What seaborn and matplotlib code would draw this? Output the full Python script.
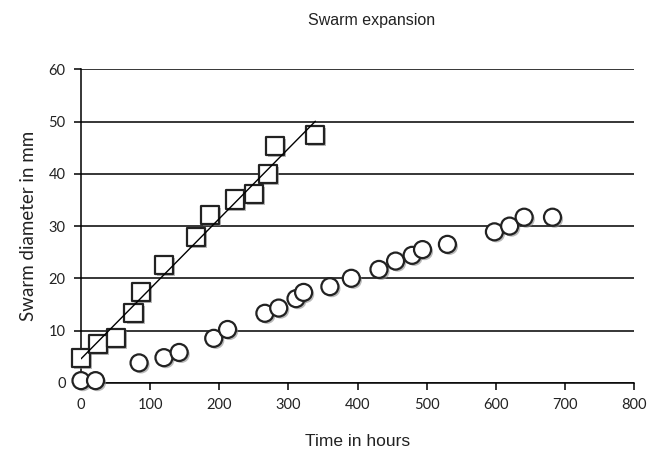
import numpy as np
import pandas as pd
import seaborn as sns
import matplotlib.pyplot as plt
import matplotlib.patheffects as pe

# squares: linear expansion series
sq_hours = [0, 25, 50, 76, 87, 120, 166, 186, 223, 250, 271, 281, 339]
sq_diam = [4.8, 7.5, 8.5, 13.3, 17.4, 22.5, 27.9, 32.1, 35.1, 36.1, 40.0, 45.3, 47.4]

# circles: slower expansion series
ci_hours = [0, 21, 84, 120, 142, 192, 212, 266, 286, 311, 322, 360, 391,
            431, 455, 479, 494, 530, 598, 620, 641, 682]
ci_diam = [0.4, 0.4, 3.8, 4.8, 5.8, 8.5, 10.2, 13.3, 14.3, 16.1, 17.3, 18.4, 20.0,
           21.7, 23.3, 24.4, 25.5, 26.5, 28.9, 30.0, 31.7, 31.7]

df_sq = pd.DataFrame({'hours': sq_hours, 'diam': sq_diam})
df_ci = pd.DataFrame({'hours': ci_hours, 'diam': ci_diam})

sns.set_style('white')
plt.rcParams['font.family'] = ['Liberation Sans', 'DejaVu Sans']

f = plt.figure(figsize=(6.49, 4.54), dpi=100)
ax = f.add_axes([0.1248, 0.157, 0.977 - 0.1248, 0.847 - 0.157])

shadow = [pe.SimplePatchShadow(offset=(1.5, -1.5), shadow_rgbFace='0.55', alpha=0.6), pe.Normal()]

ax.yaxis.grid(True, color='black', linewidth=1.1)
ax.set_axisbelow(True)

sns.scatterplot(data=df_ci, x='hours', y='diam', marker='o', s=150,
                facecolor='white', edgecolor='#222222', linewidth=1.6,
                ax=ax, zorder=3, clip_on=False)
sns.regplot(data=df_sq, x='hours', y='diam', ci=None, marker='s',
            scatter_kws={'s': 170, 'facecolor': 'white', 'edgecolor': '#222222',
                         'linewidths': 1.6, 'zorder': 3, 'alpha': 1, 'clip_on': False},
            line_kws={'color': 'black', 'linewidth': 1.0, 'zorder': 4},
            ax=ax)
for coll in ax.collections:
    coll.set_path_effects(shadow)

ax.set_xlim(0, 800)
ax.set_ylim(0, 60)
ax.set_xticks(range(0, 801, 100))
ax.set_yticks(range(0, 61, 10))

for s in ['top', 'right']:
    ax.spines[s].set_visible(False)
for s in ['left', 'bottom']:
    ax.spines[s].set_color('black')
    ax.spines[s].set_linewidth(1.1)

ax.tick_params(axis='both', direction='out', length=5, width=1.1, color='black',
               labelsize=10.5, pad=6, left=True, bottom=True)
for lab in ax.get_xticklabels() + ax.get_yticklabels():
    lab.set_family(['Lato', 'DejaVu Sans'])
    lab.set_color('#222222')

ax.set_xlabel('Time in hours', fontsize=12.5, labelpad=16, color='#222222')
ax.set_ylabel('Swarm diameter in mm', fontsize=13.5, labelpad=8, color='#222222',
              family=['Lato', 'DejaVu Sans'])
f.text(0.573, 0.955, 'Swarm expansion', ha='center', va='center', fontsize=11.5,
       color='#222222')

f.savefig('out.png', dpi=100)
